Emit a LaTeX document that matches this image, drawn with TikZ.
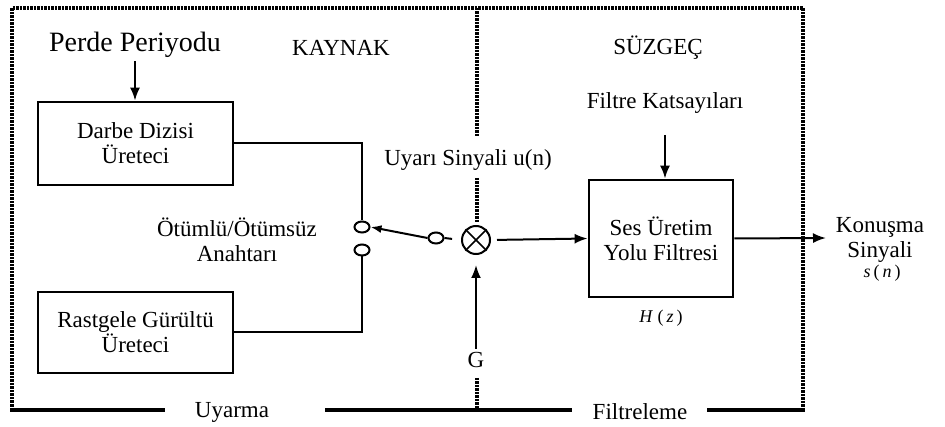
\documentclass[tikz,border=0pt]{standalone}
\usepackage{fontspec}
\setmainfont{Liberation Serif}
\usepackage{tikz}
\usetikzlibrary{arrows.meta,shapes.geometric}

\begin{document}
\begin{tikzpicture}[x=1pt, y=-1pt, >={Latex[length=13pt,width=10pt]},
  every node/.style={font=\fontsize{23}{25}\selectfont},
  blok/.style={rectangle,draw,line width=2.8pt,align=center,inner sep=0pt},
  anahtar/.style={ellipse,draw,line width=2pt,minimum width=15pt,minimum height=11pt,inner sep=0pt},
  hat/.style={line width=2pt},
  noktali/.style={line width=4pt,dash pattern=on 2.5pt off 1pt},
  cerceve/.style={line width=3.5pt}]

\useasboundingbox (0,0) rectangle (945,427);

% Titles
\node at (341,48) (kaynak) {KAYNAK};
\node at (658,48) (suzgec) {SÜZGEÇ};

% Source blocks
\node at (135,45) (perde) {\fontsize{28}{30}\selectfont Perde Periyodu};
\node[blok,minimum width=195pt,minimum height=83pt] at (135.5,143.5) (darbe) {Darbe Dizisi\\Üreteci};
\node[blok,minimum width=195pt,minimum height=81pt] at (135.5,332.5) (gurultu) {Rastgele Gürültü\\Üreteci};

% Switch
\node[anahtar] at (362,227) (swA) {};
\node[anahtar] at (362,250) (swB) {};
\node[anahtar] at (436,238) (swC) {};
\node[align=center] at (237,240) (anahtari) {Ötümlü/Ötümsüz\\Anahtarı};

% Gain and multiplier
\node[circle,draw,line width=2pt,minimum size=28pt,inner sep=0pt] at (476,240) (mult) {};
\node at (476,360) (G) {G};
\node at (468,160) (uyari) {Uyarı Sinyali u(n)};

% Filter
\node at (665,103) (katsayi) {Filtre Katsayıları};
\node[blok,minimum width=144pt,minimum height=117pt] at (661,238.5) (filtre) {Ses Üretim\\Yolu Filtresi};
\node at (661,318) (Hz) {\fontsize{18}{20}\selectfont\textit{H}\ (\,\textit{z}\,)};

% Output
\node[align=center] at (880,240) (konusma) {Konuşma\\Sinyali};
\node at (882,273) (sn) {\fontsize{18}{20}\selectfont\textit{s}\,(\,\textit{n}\,)};
\coordinate (cikis) at (826,238);

% Connections
\draw[hat,->] (perde.south) -- (perde.south |- darbe.north);
\draw[hat] (darbe.east) -| (swA.north);
\draw[hat] (gurultu.east) -| (swB.south);
\draw[hat,->,>={Latex[length=11pt,width=8pt]}] (swC.west) -- (swA.east);
\draw[hat,shorten >=9pt] (swC.east) -- (mult.west);
\draw[line width=1.5pt] (mult.north east) -- (mult.south west)
  (mult.north west) -- (mult.south east);
\draw[hat,->,shorten >=10pt] (G.north) -- (mult.south);
\draw[hat,->,shorten <=6pt] (mult.east) -- (filtre.west);
\draw[hat,->,shorten <=18pt] (katsayi.south) -- (katsayi.south |- filtre.north);
\draw[hat,->] (filtre.east) -- (cikis);

% Frame
\draw[noktali] (12,410) -- (12,8) -- (803,8) -- (803,410);
\draw[noktali] (477,8) -- (477,137);
\draw[noktali] (477,178) -- (477,222);
\draw[noktali] (477,378) -- (477,410);
\draw[cerceve] (10,410) -- (165,410);
\draw[cerceve] (325,410) -- (572,410);
\draw[cerceve] (707,410) -- (805,410);
\node at (232,412) (uyarma) {Uyarma};
\node at (640,412) (filtreleme) {Filtreleme};

\end{tikzpicture}
\end{document}
